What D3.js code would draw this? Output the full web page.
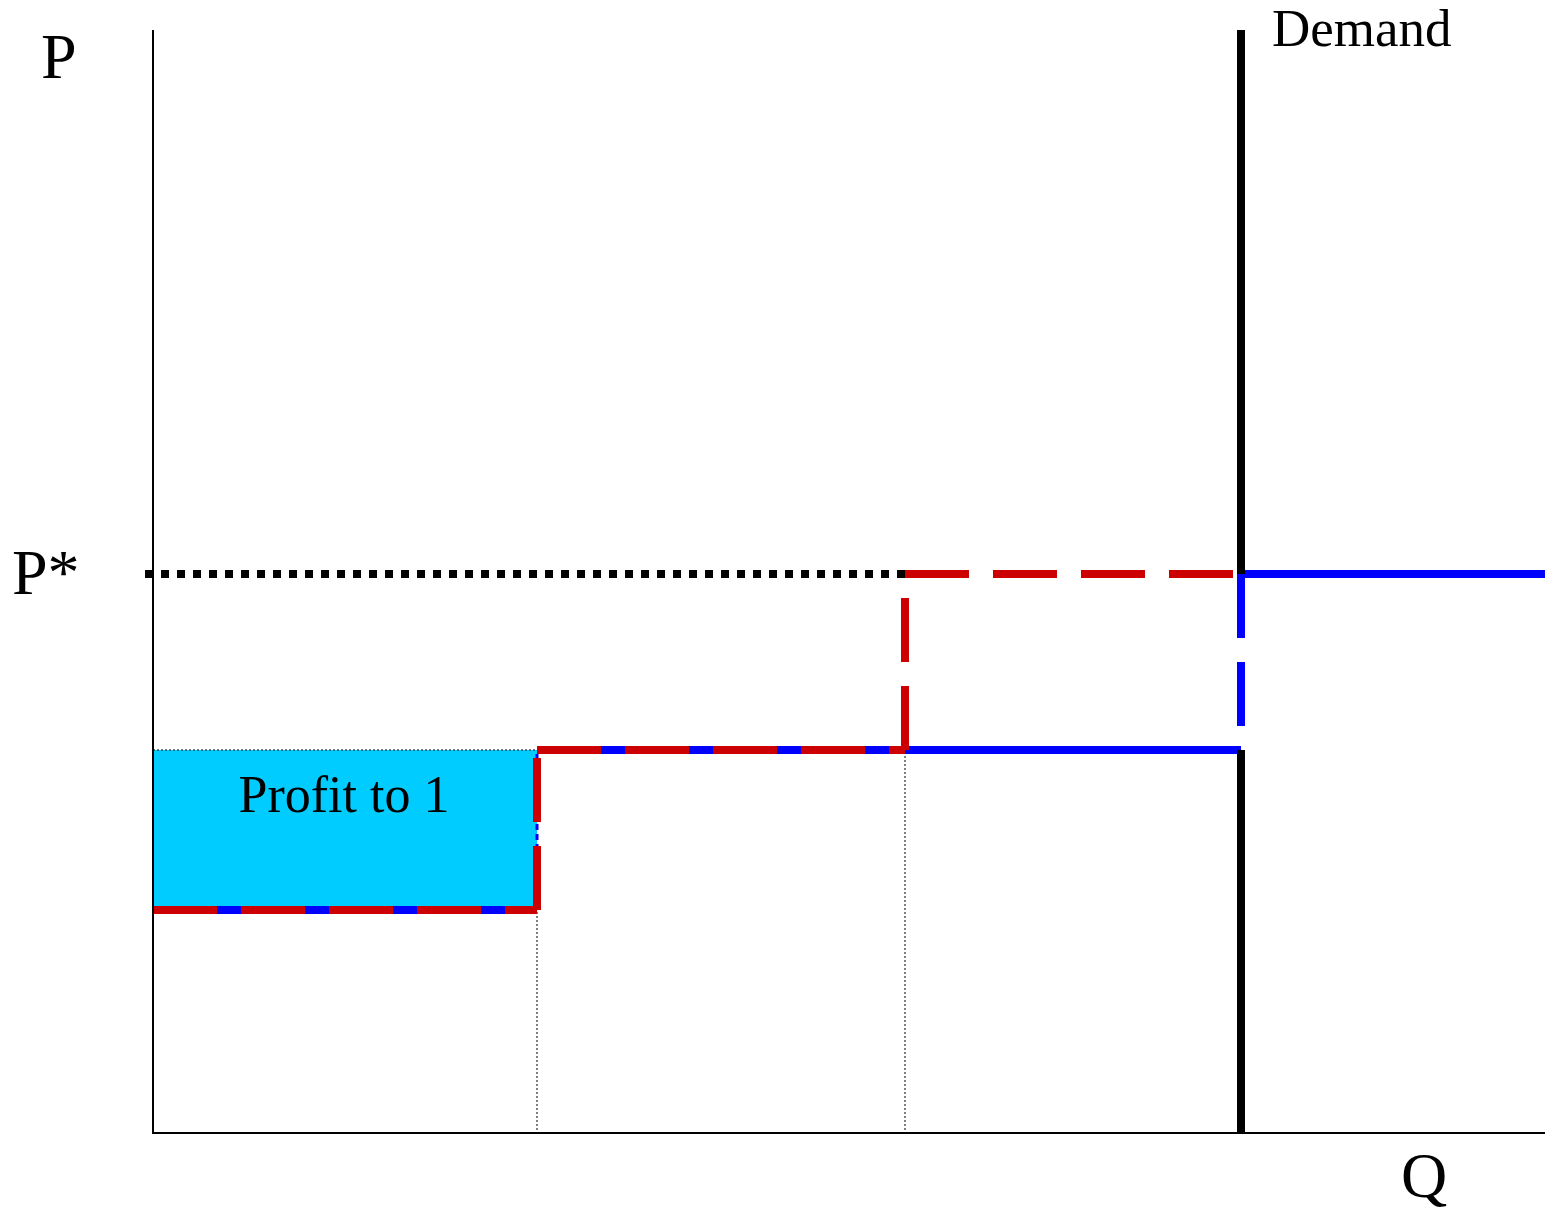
<!DOCTYPE html>
<html>
<head>
<meta charset="utf-8">
<script src="https://cdn.jsdelivr.net/npm/d3@7"></script>
<style>
  body { margin:0; background:#fff; }
  svg { display:block; font-family:"Liberation Serif","Times New Roman",serif; }
</style>
</head>
<body>
<svg id="chart" width="1545" height="1212"></svg>
<script>
// chart units: quantity on x, price on y
const qMax = 87, pMax = 69;
const demandQ = 68;
const pStar = 35;
const capQ = 47;            // where firm 1 steps up to P*

// firm 1 supply (red dashed) - every leg starts its own dash pattern
const firmSupply = [[0,14],[24,14],[24,24],[47,24],[47,35],[68,35]];

// market supply (blue)
const marketSupply = [
  {pts:[[0,14],[24,14]], kind:'solid'},
  {pts:[[24,14],[24,24]], kind:'thin'},
  {pts:[[24,24],[68,24]], kind:'solid'},
  {pts:[[68,35],[68,24]], kind:'dash'},
  {pts:[[68,35],[87,35]], kind:'solid'}
];

// demand is cut where the blue dashed leg runs
const demandSegs = [[[68,0],[68,24]], [[68,35],[68,pMax]]];

// thin dotted guides
const guides = [[[24,0],[24,14]], [[47,0],[47,24]], [[0,24],[24,24]]];

// profit area for firm 1
const profitBox = {q0:0, q1:24, p0:14, p1:24, label:'Profit to 1'};

const axisLabels = {p:'P', q:'Q', pStar:'P*', demand:'Demand'};

const svg = d3.select('#chart');

let x = d3.scaleLinear().domain([0, qMax]).range([153, 1545]);
let y = d3.scaleLinear().domain([0, pMax]).range([1134, 30]);

let line = d3.line()
  .x(function(d) {return x(d[0]);})
  .y(function(d) {return y(d[1]);});

svg.append('rect')
  .attr('width', 1545).attr('height', 1212).attr('fill', '#fff');

// profit rectangle
svg.append('rect')
  .attr('x', x(profitBox.q0))
  .attr('y', y(profitBox.p1))
  .attr('width', x(profitBox.q1) - x(profitBox.q0))
  .attr('height', y(profitBox.p0) - y(profitBox.p1))
  .attr('fill', '#00ccff');

// dotted guides
svg.selectAll('.guide')
  .data(guides)
  .enter().append('path')
  .attr('class', 'guide')
  .attr('d', line)
  .attr('fill', 'none')
  .attr('stroke', '#000')
  .attr('stroke-width', 1)
  .attr('stroke-dasharray', '2,2');

// market supply
svg.selectAll('.market')
  .data(marketSupply)
  .enter().append('path')
  .attr('class', 'market')
  .attr('d', function(d) {return line(d.pts);})
  .attr('fill', 'none')
  .attr('stroke', '#0000ff')
  .attr('stroke-width', function(d) {return d.kind === 'thin' ? 3 : 8;})
  .attr('stroke-dasharray', function(d) {
    if (d.kind === 'dash') return '64,24';
    if (d.kind === 'thin') return '6,4';
    return null;
  });

// firm 1 supply
let legs = [];
for (let i = 0; i < firmSupply.length - 1; i++) {
  legs.push([firmSupply[i], firmSupply[i+1]]);
}
svg.selectAll('.firm')
  .data(legs)
  .enter().append('path')
  .attr('class', 'firm')
  .attr('d', line)
  .attr('fill', 'none')
  .attr('stroke', '#cc0000')
  .attr('stroke-width', 8)
  .attr('stroke-dasharray', '64,24');

// demand
svg.selectAll('.demand')
  .data(demandSegs)
  .enter().append('path')
  .attr('class', 'demand')
  .attr('d', line)
  .attr('fill', 'none')
  .attr('stroke', '#000')
  .attr('stroke-width', 8);

// P* dotted line (starts a little left of the axis)
svg.append('line')
  .attr('x1', x(0) - 8)
  .attr('x2', x(capQ))
  .attr('y1', y(pStar))
  .attr('y2', y(pStar))
  .attr('stroke', '#000')
  .attr('stroke-width', 8)
  .attr('stroke-dasharray', '8,8');

// axes, no ticks
svg.append('line')
  .attr('x1', x(0)).attr('x2', x(0))
  .attr('y1', y(0)).attr('y2', y(pMax))
  .attr('stroke', '#000').attr('stroke-width', 2);
svg.append('line')
  .attr('x1', x(0)).attr('x2', x(qMax))
  .attr('y1', y(0) - 1).attr('y2', y(0) - 1)
  .attr('stroke', '#000').attr('stroke-width', 2);

// texts
svg.append('text')
  .attr('x', 41).attr('y', 78)
  .attr('font-size', 64)
  .text(axisLabels.p);
svg.append('text')
  .attr('x', 12).attr('y', y(pStar) + 20)
  .attr('font-size', 64)
  .text(axisLabels.pStar);
svg.append('text')
  .attr('x', 1401).attr('y', 1197)
  .attr('font-size', 64)
  .text(axisLabels.q);
svg.append('text')
  .attr('x', x(demandQ) + 31).attr('y', 46)
  .attr('font-size', 53)
  .text(axisLabels.demand);
svg.append('text')
  .attr('x', (x(profitBox.q0) + x(profitBox.q1)) / 2 - 1)
  .attr('y', y(profitBox.p1) + 62)
  .attr('text-anchor', 'middle')
  .attr('font-size', 52)
  .text(profitBox.label);
</script>
</body>
</html>
